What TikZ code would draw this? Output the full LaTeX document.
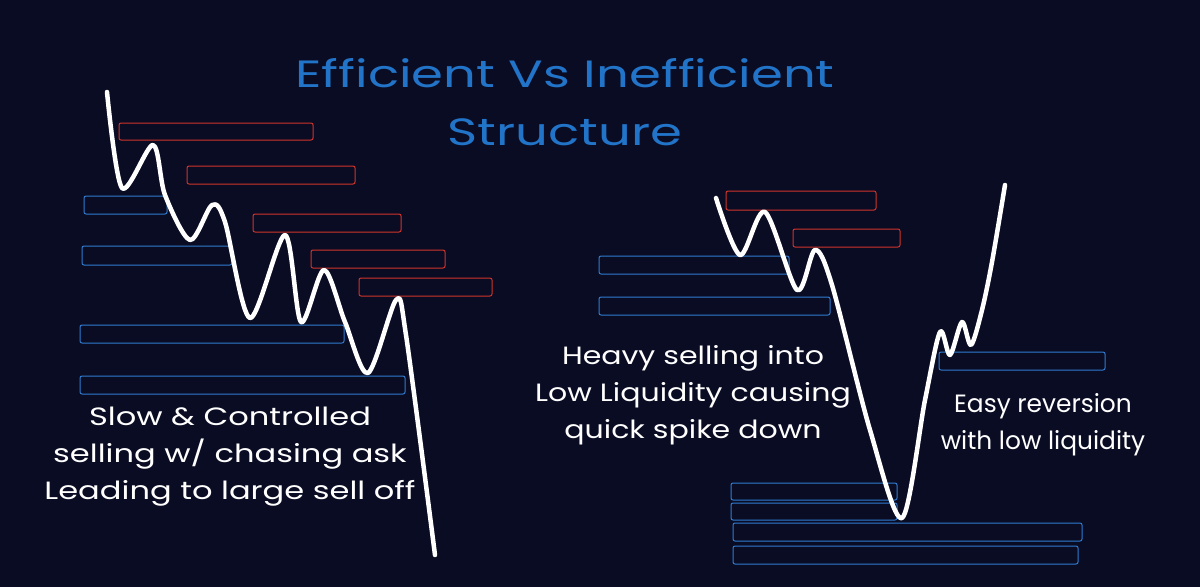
\documentclass[tikz,border=0pt]{standalone}
\usepackage{fontspec}
\setmainfont{Poppins}
\definecolor{bg}{HTML}{0A0C24}
\definecolor{ttl}{HTML}{2274C8}
\definecolor{rbox}{HTML}{D0332B}
\definecolor{bbox}{HTML}{2F7BD0}
\begin{document}
\begin{tikzpicture}[x=1pt,y=-1pt,
  rb/.style={draw=rbox,line width=1pt,rounded corners=2pt},
  bb/.style={draw=bbox,line width=1pt,rounded corners=2pt},
  price/.style={white,line width=4.5pt,line cap=round,line join=round},
  lbl/.style={white,font=\fontsize{25}{37}\selectfont,align=center,xscale=1.2,transform shape}]
\fill[bg] (0,0) rectangle (1200,587);
\node[ttl,font=\fontsize{38}{58}\selectfont,align=center,xscale=1.35,transform shape] (title) at (565,102) {Efficient Vs Inefficient\\Structure};
% left
\draw[rb] (119,123) rectangle (313,140);
\draw[rb] (187,166) rectangle (355,184);
\draw[rb] (253,214) rectangle (401,232);
\draw[rb] (311,250) rectangle (445,268);
\draw[rb] (359,278) rectangle (492,296);
\draw[bb] (84,196) rectangle (167,214);
\draw[bb] (82,246) rectangle (232,265);
\draw[bb] (80,325) rectangle (344,343);
\draw[bb] (80,376) rectangle (405,394);
\draw[price] plot[smooth,tension=0.5] coordinates {(107,92) (122,188) (153,145) (165,195) (190,240) (212,205) (225,222) (250,318) (285,235) (301,322) (324,270) (345,322) (368,373) (396,300) (406,335) (435,555)};
\node[lbl,xscale=1.07] (t1) at (230,457) {Slow \& Controlled\\selling w/ chasing ask\\Leading to large sell off};
% right
\draw[rb] (726,191) rectangle (876,210);
\draw[rb] (793,229) rectangle (900,247);
\draw[bb] (599,256) rectangle (789,274);
\draw[bb] (599,297) rectangle (830,315);
\draw[bb] (939,352) rectangle (1105,370);
\draw[bb] (731,483) rectangle (897,500);
\draw[bb] (731,503) rectangle (897,520);
\draw[bb] (733,523) rectangle (1082,541);
\draw[bb] (733,546) rectangle (1078,564);
\draw[price] plot[smooth,tension=0.5] coordinates {(716,198) (740,255) (765,212) (797,290) (815,250) (832,285) (870,430) (902,518) (925,400) (940,332) (950,355) (962,322) (971,345) (982,310) (992,262) (1005,185)};
\node[lbl] (t2) at (693,395) {Heavy selling into\\Low Liquidity causing\\quick spike down};
\node[lbl,xscale=0.83] (t3) at (1043,425) {Easy reversion\\with low liquidity};
\end{tikzpicture}
\end{document}
